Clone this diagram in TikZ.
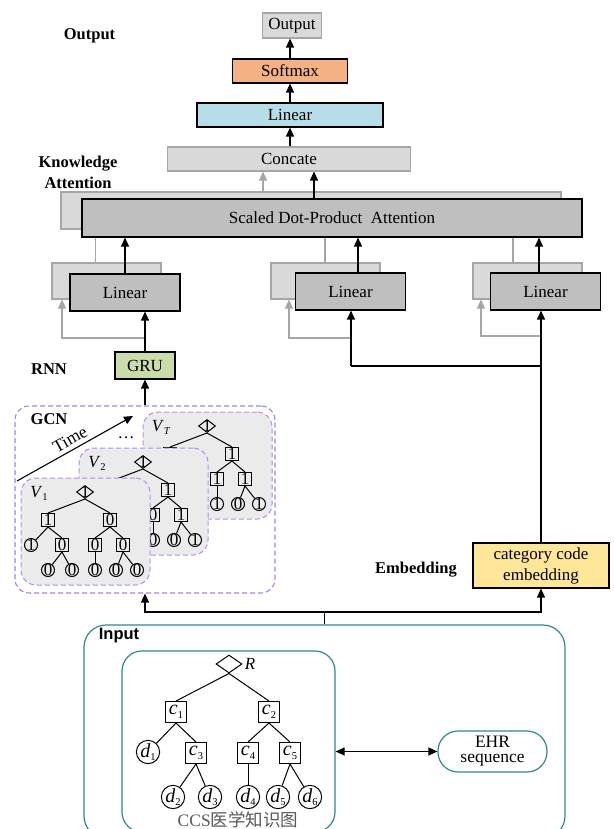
\documentclass[tikz,border=0pt]{standalone}
\usepackage{fontspec}
\setmainfont{Liberation Serif}
\setsansfont{Liberation Sans}
\newfontfamily\cjk{Noto Sans CJK SC}
\usetikzlibrary{arrows.meta,shapes.geometric}
\definecolor{lgray}{HTML}{D9D9D9}
\definecolor{dgray}{HTML}{BFBFBF}
\definecolor{gry}{HTML}{A6A6A6}
\definecolor{softc}{HTML}{F4B183}
\definecolor{linc}{HTML}{B7DEE8}
\definecolor{gruc}{HTML}{C9DCAA}
\definecolor{embc}{HTML}{FFE699}
\definecolor{gcnc}{HTML}{8C8CF5}
\definecolor{panc}{HTML}{B98BE6}
\definecolor{panf}{HTML}{EBEBEB}
\definecolor{tealc}{HTML}{2E8B87}
\definecolor{ccsc}{HTML}{595959}
\newcommand\mysub[2]{\textit{#1}\raisebox{-0.4ex}{\fontsize{10.5}{10.5}\selectfont #2}}
\newcommand\gtree[7]{\def\gPre{#1}\def\gX{#2}\def\gY{#3}\def\gLab{#4}\def\gDa{#5}\def\gDb{#6}\def\gDc{#7}\gtreeB}
\newcommand\gtreeB[9]{%
\begin{scope}[shift={(\gX,\gY)}, name prefix=\gPre-]
 \node[panel] (pan) at (0.5,39.5) {};
 \node[vlab] (lab) at (-46,1) {\gLab};
 \node[gdia=\gDa] (r) at (0,0) {};
 \node[gsq=\gDb] (L) at (-37,28) {};
 \node[gsq=\gDc] (R) at (25,28) {};
 \node[gci=#1] (La) at (-54,53) {};
 \node[gsq=#2] (Lb) at (-23,53) {};
 \node[gci=#3] (Lb1) at (-37,78) {};
 \node[gci=#4] (Lb2) at (-13,78) {};
 \node[gsq=#5] (Ra) at (10,53) {};
 \node[gsq=#6] (Rb) at (38,53) {};
 \node[gci=#7] (Ra1) at (10,78) {};
 \node[gci=#8] (Rb1) at (31,78) {};
 \node[gci=#9] (Rb2) at (52,78) {};
 \draw[tl] (r.south) -- (L.north);
 \draw[tl] (r.south) -- (R.north);
 \draw[tl] (L.south) -- (La);
 \draw[tl] (L.south) -- (Lb.north);
 \draw[tl] (Lb.south) -- (Lb1);
 \draw[tl] (Lb.south) -- (Lb2);
 \draw[tl] (R.south) -- (Ra.north);
 \draw[tl] (R.south) -- (Rb.north);
 \draw[tl] (Ra.south) -- (Ra1);
 \draw[tl] (Rb.south) -- (Rb1);
 \draw[tl] (Rb.south) -- (Rb2);
\end{scope}}
\begin{document}
\begin{tikzpicture}[x=1pt,y=-1pt,
 every node/.style={font=\fontsize{17}{19}\selectfont, inner sep=0pt},
 box/.style={draw, line width=1.1pt, align=center},
 lgbox/.style={box, draw=gry, fill=lgray},
 dkbox/.style={box, draw=black, fill=dgray},
 arr/.style={draw=black, line width=1.2pt, -{Triangle[length=9pt,width=8pt]}},
 garr/.style={draw=gry, line width=1.2pt, -{Triangle[length=9pt,width=8pt]}},
 darr/.style={draw=black, line width=1.2pt, {Triangle[length=9pt,width=8pt]}-{Triangle[length=9pt,width=8pt]}},
 gline/.style={draw=gry, line width=1.2pt},
 bline/.style={draw=black, line width=1.2pt},
 lab/.style={font=\fontsize{16.5}{21}\selectfont\bfseries, align=center},
 labsf/.style={font=\fontsize{16.5}{21}\selectfont\sffamily\bfseries},
 panel/.style={draw=panc, dash pattern=on 5pt off 3pt, fill=panf, line width=1pt, rounded corners=15pt, minimum width=129pt, minimum height=107pt},
 gdig/.style={font=\fontsize{17}{17}\selectfont},
 gsq/.style={draw, line width=1pt, fill=panf, minimum size=13pt, label={[gdig]center:#1}},
 gci/.style={gsq=#1, circle},
 gdia/.style={draw, line width=1pt, fill=panf, diamond, minimum width=17pt, minimum height=13pt, label={[gdig]center:#1}},
 vlab/.style={font=\fontsize{17}{17}\selectfont},
 tl/.style={line width=1pt},
 isq/.style={draw, line width=1pt, fill=white, minimum size=21pt, font=\fontsize{20}{20}\selectfont},
 ici/.style={isq, circle, minimum size=20pt},
 tealbox/.style={draw=tealc, line width=1.2pt}
]
\useasboundingbox (0,0) rectangle (613,829);
\clip (0,0) rectangle (613,829);
\fill[white] (0,0) rectangle (613,829);

% ---------- top ----------
\node[lgbox, minimum width=59pt, minimum height=25pt] (out) at (292,25.5) {Output};
\node[box, fill=softc, minimum width=115pt, minimum height=24pt] (soft) at (290,71) {Softmax};
\node[box, fill=linc, minimum width=186pt, minimum height=24pt] (lin) at (290,115) {Linear};
\node[lgbox, minimum width=243pt, minimum height=24pt] (conc) at (289,159) {Concate};
\draw[arr] (soft.north) -- (soft.north |- out.south);
\draw[arr] (lin.north) -- (soft.south);
\draw[arr] (lin.south |- conc.north) -- (lin.south);

% ---------- attention (back layer) ----------
\coordinate (xg) at (263,0);
\coordinate (xb) at (314,0);
\node[lgbox, minimum width=500pt, minimum height=37pt] (attB) at (311,210.5) {};
\draw[garr] (attB.north -| xg) -- (conc.south -| xg);
\node[lgbox, minimum width=109pt, minimum height=36pt] (LB1) at (106.5,281) {};
\node[lgbox, minimum width=109pt, minimum height=36pt] (LB2) at (325.5,281) {};
\node[lgbox, minimum width=109pt, minimum height=36pt] (LB3) at (527.5,281) {};
\coordinate (g1) at (95.5,0);
\coordinate (g2) at (325,0);
\coordinate (g3) at (513,0);
\draw[gline] (LB1.north -| g1) -- (attB.south -| g1);
\draw[gline] (LB2.north -| g2) -- (attB.south -| g2);
\draw[gline] (LB3.north -| g3) -- (attB.south -| g3);

% ---------- attention (front layer) ----------
\node[dkbox, minimum width=500pt, minimum height=38pt] (attF) at (332,218) {Scaled Dot-Product\ \ Attention};
\draw[arr] (attF.north -| xb) -- (conc.south -| xb);
\node[dkbox, minimum width=110pt, minimum height=37pt] (LF1) at (125,292.5) {Linear};
\node[dkbox, minimum width=110pt, minimum height=37pt] (LF2) at (350.5,291.5) {Linear};
\node[dkbox, minimum width=110pt, minimum height=37pt] (LF3) at (545.5,291.5) {Linear};
\coordinate (a2) at (358,0);
\coordinate (a3) at (539,0);
\draw[arr] (LF1.north) -- (LF1.north |- attF.south);
\draw[arr] (LF2.north -| a2) -- (attF.south -| a2);
\draw[arr] (LF3.north -| a3) -- (attF.south -| a3);

% ---------- inputs of linear layers ----------
\node[box, fill=gruc, minimum width=60pt, minimum height=27pt] (gru) at (145,365.5) {GRU};
\node[box, fill=embc, minimum width=136pt, minimum height=45pt, font=\fontsize{17}{21}\selectfont] (emb) at (541,565.5) {category code\\embedding};
\coordinate (j1) at (145,338);
\coordinate (k1) at (62,0);
\coordinate (j2) at (351,366);
\coordinate (j3) at (541,366);
\coordinate (j2g) at (351,338);
\coordinate (k2) at (289,0);
\coordinate (j3g) at (541,336);
\coordinate (k3) at (481,0);
\draw[garr] (j1) -| (LB1.south -| k1);
\draw[garr] (j2g) -| (LB2.south -| k2);
\draw[garr] (j3g) -| (LB3.south -| k3);
\draw[arr] (gru.north) -- (gru.north |- LF1.south);
\draw[bline] (j2) -- (j3);
\draw[arr] (j2) -- (j2 |- LF2.south);
\draw[arr] (emb.north) -- (emb.north |- LF3.south);

% ---------- GCN ----------
\node[draw=gcnc, dash pattern=on 5pt off 3pt, line width=1.1pt, rounded corners=14pt, minimum width=260pt, minimum height=187pt] (gcn) at (145,499.5) {};
\draw[arr] (gcn.north) -- (gru.south);
\coordinate (t0) at (17,481);
\coordinate (t1) at (133,416);
\draw[arr, line width=1.1pt] (t0) -- (t1) node[pos=0.5, above=4pt, sloped, font=\fontsize{17.5}{17.5}\selectfont] (time) {Time};
\node[font=\fontsize{17}{17}\selectfont] (dots) at (126,438) {\dots};

\gtree{vT}{207}{426}{\mysub{V}{\textit{T}}}{1}{1}{1}{1}{1}{1}{1}{1}{1}{1}{0}{1}
\gtree{v2}{143}{462}{\mysub{V}{2}}{1}{1}{1}{1}{0}{0}{0}{0}{1}{0}{0}{1}
\gtree{v1}{85}{492}{\mysub{V}{1}}{1}{1}{0}{1}{0}{0}{0}{0}{0}{0}{0}{0}

% ---------- input ----------
\node[tealbox, rounded corners=22pt, minimum width=481pt, minimum height=213pt] (inp) at (324.5,731.5) {};
\node[tealbox, rounded corners=20pt, minimum width=213pt, minimum height=181pt] (kg) at (228.5,741.5) {};
\node[tealbox, rounded corners=20pt, minimum width=109pt, minimum height=41pt, align=center, font=\fontsize{17.5}{15}\selectfont] (ehr) at (492.5,751.5) {EHR\\sequence};
\coordinate (jb) at (324.5,612);
\draw[bline] (inp.north) -- (jb);
\draw[arr] (jb) -| (gcn.south);
\draw[arr] (jb) -| (emb.south);
\draw[darr] (ehr.west -| kg.east) -- (ehr.west);

% knowledge tree
\node[draw, line width=1pt, diamond, minimum width=26pt, minimum height=18pt] (R) at (229,664) {};
\node[font=\fontsize{17}{17}\selectfont\itshape] (Rl) at (250,664) {R};
\node[isq] (c1) at (176,712) {\mysub{c}{1}};
\node[isq] (c2) at (269,712) {\mysub{c}{2}};
\node[ici] (d1) at (148,752) {\mysub{d}{1}};
\node[isq] (c3) at (196,753) {\mysub{c}{3}};
\node[isq] (c4) at (248,753) {\mysub{c}{4}};
\node[isq] (c5) at (290,753) {\mysub{c}{5}};
\node[ici] (d2) at (173,797) {\mysub{d}{2}};
\node[ici] (d3) at (210,797) {\mysub{d}{3}};
\node[ici] (d4) at (248,797) {\mysub{d}{4}};
\node[ici] (d5) at (278,797) {\mysub{d}{5}};
\node[ici] (d6) at (310,797) {\mysub{d}{6}};
\draw[tl] (R.south) -- (c1.north);
\draw[tl] (R.south) -- (c2.north);
\draw[tl] (c1.south) -- (d1);
\draw[tl] (c1.south) -- (c3.north);
\draw[tl] (c3.south) -- (d2);
\draw[tl] (c3.south) -- (d3);
\draw[tl] (c2.south) -- (c4.north);
\draw[tl] (c2.south) -- (c5.north);
\draw[tl] (c4.south) -- (d4);
\draw[tl] (c5.south) -- (d5);
\draw[tl] (c5.south) -- (d6);
\node[text=ccsc, font=\fontsize{17.5}{17.5}\selectfont] (ccs) at (238,820) {CCS{\cjk 医学知识图}};

% ---------- side labels ----------
\node[lab] (lOut) at (89.5,36) {Output};
\node[lab] (lKA) at (78,172) {Knowledge\\Attention};
\node[lab] (lRNN) at (49,369) {RNN};
\node[lab] (lGCN) at (49,419) {GCN};
\node[lab] (lEmb) at (416,570) {Embedding};
\node[labsf] (lIn) at (119,636) {Input};
\end{tikzpicture}
\end{document}
